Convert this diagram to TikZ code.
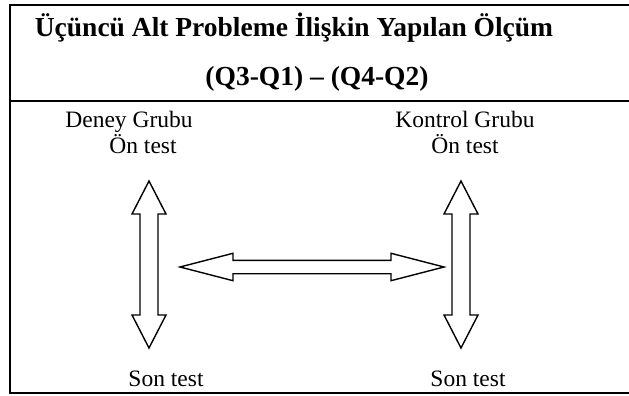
\documentclass[tikz,border=0pt]{standalone}
\usepackage{fontspec}
\setmainfont{Liberation Serif}
\usetikzlibrary{positioning}
\tikzset{
  lbl/.style={font=\fontsize{23.5}{26}\selectfont, inner sep=0pt, anchor=base},
  ttl/.style={font=\fontsize{27.5}{30}\selectfont\bfseries, inner sep=0pt, anchor=base},
  % hollow double arrows
  varrow/.pic={\draw[line width=1.4pt] (0,-83.5) -- (17,-50.5) -- (9,-50.5)
    -- (9,50.5) -- (17,50.5) -- (0,83.5) -- (-17,50.5) -- (-9,50.5)
    -- (-9,-50.5) -- (-17,-50.5) -- cycle;},
  harrow/.pic={\draw[line width=1.4pt] (-132,0) -- (-79,-13.7) -- (-79,-6.7)
    -- (79,-6.7) -- (79,-13.7) -- (132,0) -- (79,13.7) -- (79,6.7)
    -- (-79,6.7) -- (-79,13.7) -- cycle;},
}
\begin{document}
\begin{tikzpicture}[x=1pt,y=-1pt]
  \useasboundingbox (0,0) rectangle (629,396);
  % frame
  \draw[line width=2.4pt] (629,5) -| (10,393) -- (629,393);
  \draw[line width=2.4pt] (10,101) -- (629,101);
  % heading
  \node[ttl] at (294,37) (T1) {Üçüncü Alt Probleme İlişkin Yapılan Ölçüm};
  \node[ttl] at (317,85) (T2) {(Q3-Q1) -- (Q4-Q2)};
  % groups
  \node[lbl] at (129,127) (DG) {Deney Grubu};
  \node[lbl] at (143,153) (DO) {Ön test};
  \node[lbl] at (465,127) (KG) {Kontrol Grubu};
  \node[lbl] at (465,153) (KO) {Ön test};
  \node[lbl] at (166,386) (DS) {Son test};
  \node[lbl] at (468,386) (KS) {Son test};
  % arrows
  \pic (DA) at (149,264.5) {varrow};
  \pic (KA) at (461,264.5) {varrow};
  \pic (HA) at (312,267) {harrow};
\end{tikzpicture}
\end{document}
